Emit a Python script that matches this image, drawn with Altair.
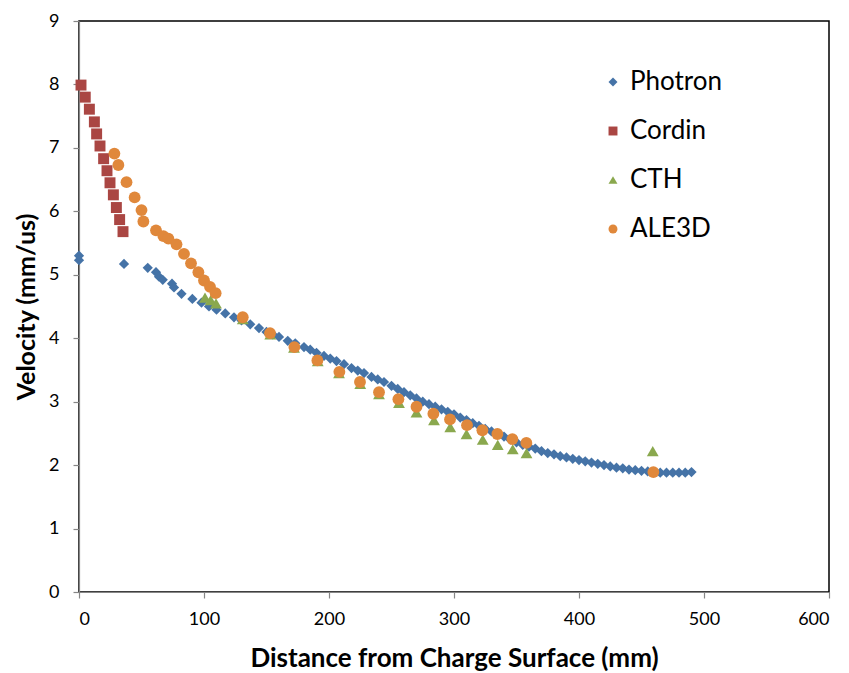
import altair as alt
import pandas as pd

series_names = ["Photron", "Cordin", "CTH", "ALE3D"]
series_colors = ["#4573A7", "#AA4643", "#8AA84E", "#E0883B"]
series_shapes = ["diamond", "square", "triangle-up", "circle"]

photron_x = [0, 0, 36, 55, 61.6, 64, 67, 74.4, 76, 82, 90.7, 98,
             104, 110, 117, 124, 130, 137, 144, 150, 155, 160, 167, 173, 180, 185,
             190, 196, 201, 206, 212, 218, 223, 228, 234, 239, 244, 250, 255, 260,
             265, 270, 275, 280, 285, 290, 295, 300, 305, 310, 315, 320, 325, 330,
             335, 340, 345, 350, 355, 360, 365, 370, 375, 380, 385, 390, 395, 400,
             405, 410, 415, 420, 425, 430, 435, 440, 445, 450, 455, 460, 465, 470,
             475, 480, 485, 490]
photron_y = [5.30, 5.23, 5.17, 5.11, 5.04, 4.97, 4.92, 4.86, 4.80, 4.70, 4.62, 4.56,
             4.50, 4.45, 4.39, 4.33, 4.28, 4.22, 4.16, 4.10, 4.06, 4.02, 3.96, 3.92, 3.86, 3.82,
             3.77, 3.72, 3.68, 3.64, 3.59, 3.53, 3.49, 3.45, 3.39, 3.35, 3.31, 3.25, 3.20, 3.15,
             3.10, 3.05, 3.00, 2.96, 2.92, 2.88, 2.84, 2.80, 2.75, 2.71, 2.66, 2.62, 2.57, 2.53,
             2.49, 2.45, 2.40, 2.36, 2.32, 2.29, 2.26, 2.22, 2.19, 2.17, 2.14, 2.12, 2.10, 2.08,
             2.06, 2.04, 2.02, 2.00, 1.98, 1.96, 1.95, 1.93, 1.92, 1.91, 1.90, 1.89, 1.88, 1.88,
             1.88, 1.88, 1.88, 1.89]

cordin_x = [1.6, 5.0, 8.3, 12.3, 14.1, 16.8, 19.7, 22.4, 24.8, 27.5, 29.9, 32.5, 35.2]
cordin_y = [7.99, 7.80, 7.61, 7.41, 7.22, 7.03, 6.83, 6.64, 6.45, 6.26, 6.06, 5.87, 5.68]

cth_x = [100.8, 105.3, 109.6, 131, 153, 172, 191, 208, 225, 240, 256, 270, 284, 297,
         310, 323, 335, 347, 358, 459]
cth_y = [4.64, 4.60, 4.55, 4.30, 4.06, 3.85, 3.64, 3.45, 3.28, 3.12, 2.98, 2.83, 2.71, 2.60,
         2.49, 2.40, 2.32, 2.25, 2.19, 2.22]

ale3d_x = [28.3, 31.5, 38, 44.5, 50, 51.5, 61.6, 67.5, 71.5, 78, 84, 89.6, 95.5, 100,
           104.8, 109.3, 131, 152.8, 172.3, 190.7, 208.3, 224.8, 240, 255.5, 270, 283.5,
           296.8, 310.4, 322.7, 334.7, 346.7, 357.9, 459.5]
ale3d_y = [6.91, 6.73, 6.46, 6.22, 6.02, 5.84, 5.70, 5.61, 5.57, 5.48, 5.33, 5.18, 5.04, 4.91,
           4.81, 4.71, 4.33, 4.08, 3.86, 3.65, 3.47, 3.31, 3.15, 3.04, 2.92, 2.81,
           2.72, 2.63, 2.55, 2.49, 2.41, 2.35, 1.89]

frames = []
for name, xs, ys in [("Photron", photron_x, photron_y), ("Cordin", cordin_x, cordin_y),
                     ("CTH", cth_x, cth_y), ("ALE3D", ale3d_x, ale3d_y)]:
    frames.append(pd.DataFrame({"x": xs, "y": ys, "series": name}))
df = pd.concat(frames, ignore_index=True)

marker_sizes = {"Photron": 105, "Cordin": 120, "CTH": 140, "ALE3D": 140}

FONT = "Lato"
legend = alt.Legend(title=None, orient="none", legendX=521, legendY=48,
                    labelFontSize=26, labelFont=FONT, labelColor="#000000",
                    symbolSize=80, symbolStrokeWidth=0, rowPadding=23,
                    labelOffset=4, padding=0)

layers = []
for name in series_names:
    layers.append(
        alt.Chart(df).transform_filter(alt.datum.series == name)
        .mark_point(filled=True, size=marker_sizes[name], opacity=1, strokeWidth=0)
        .encode(
            x=alt.X("x:Q", scale=alt.Scale(domain=[0, 600], nice=False, zero=False),
                    axis=alt.Axis(values=[0, 100, 200, 300, 400, 500, 600],
                                  title="Distance from Charge Surface (mm)")),
            y=alt.Y("y:Q", scale=alt.Scale(domain=[0, 9], nice=False),
                    axis=alt.Axis(values=list(range(0, 10)), title="Velocity (mm/us)")),
            color=alt.Color("series:N", scale=alt.Scale(domain=series_names, range=series_colors),
                            legend=legend),
            shape=alt.Shape("series:N", scale=alt.Scale(domain=series_names, range=series_shapes),
                            legend=legend),
        )
    )

chart = alt.layer(*layers).properties(
    width=750, height=571,
    autosize=alt.AutoSizeParams(type="none"),
    padding={"left": 71, "top": 13, "right": 12, "bottom": 81},
).configure_view(
    stroke="#000000", strokeWidth=1.5
).configure_axis(
    domainColor="#868686", tickColor="#868686", domainWidth=1.2, tickWidth=1.2,
    tickSize=6, grid=False, labelFont=FONT, labelFontSize=18, labelColor="#000000",
    titleFont=FONT, titleFontSize=26, titleFontWeight="bold", titleColor="#000000",
).configure_axisX(
    labelPadding=12, titlePadding=17
).configure_axisY(
    labelPadding=14, titlePadding=9, titleFontSize=25
)

chart.save("out.html", embed_options={"renderer": "svg", "actions": False})
